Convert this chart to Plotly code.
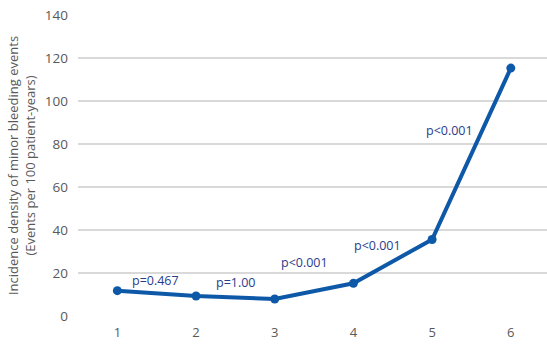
import plotly.graph_objects as go

x_vals = [1, 2, 3, 4, 5, 6]
y_vals = [11.8, 9.3, 7.9, 15.2, 35.6, 115.3]
p_labels = ["p=0.467", "p=1.00", "p<0.001", "p<0.001", "p<0.001"]
p_x = [1.48, 2.51, 3.38, 4.30, 5.22]
p_y = [16.5, 15.7, 25.0, 33.0, 86.5]
y_ticks = [0, 20, 40, 60, 80, 100, 120, 140]

font_family = "Open Sans, Liberation Sans, sans-serif"

fig = go.Figure()
fig.add_trace(go.Scatter(
    x=x_vals, y=y_vals, mode="lines+markers",
    line=dict(color="#0E58A8", width=4),
    marker=dict(color="#0E58A8", size=9),
    showlegend=False, hoverinfo="skip"))

for t, xx, yy in zip(p_labels, p_x, p_y):
    fig.add_annotation(x=xx, y=yy, text=t, showarrow=False,
                       font=dict(family=font_family, size=12.5, color="#2A3C8C"))

fig.update_layout(
    width=547, height=345,
    margin=dict(l=78, r=0, t=15, b=29),
    paper_bgcolor="white", plot_bgcolor="white",
    font=dict(family=font_family, size=13, color="#595959"),
    xaxis=dict(range=[0.5, 6.46], tickvals=x_vals, showgrid=False,
               zeroline=False, showline=False, ticks="", automargin=False,
               ticklabelstandoff=7,
               tickfont=dict(size=13, color="#595959")),
    yaxis=dict(range=[0, 140], tickvals=y_ticks, showgrid=True,
               gridcolor="#D9D9D9", gridwidth=2, zeroline=False,
               ticks="", ticklen=0, automargin=False,
               ticklabelstandoff=9,
               tickfont=dict(size=13.5, color="#595959"),
               title=dict(text="Incidence density of minor bleeding events<br>(Events per 100 patient-years)",
                          font=dict(size=13, color="#595959"), standoff=6)),
)

fig.write_html("out.html", config={"displayModeBar": False},
               post_script="document.body.style.margin='0';document.body.style.overflow='hidden';")
